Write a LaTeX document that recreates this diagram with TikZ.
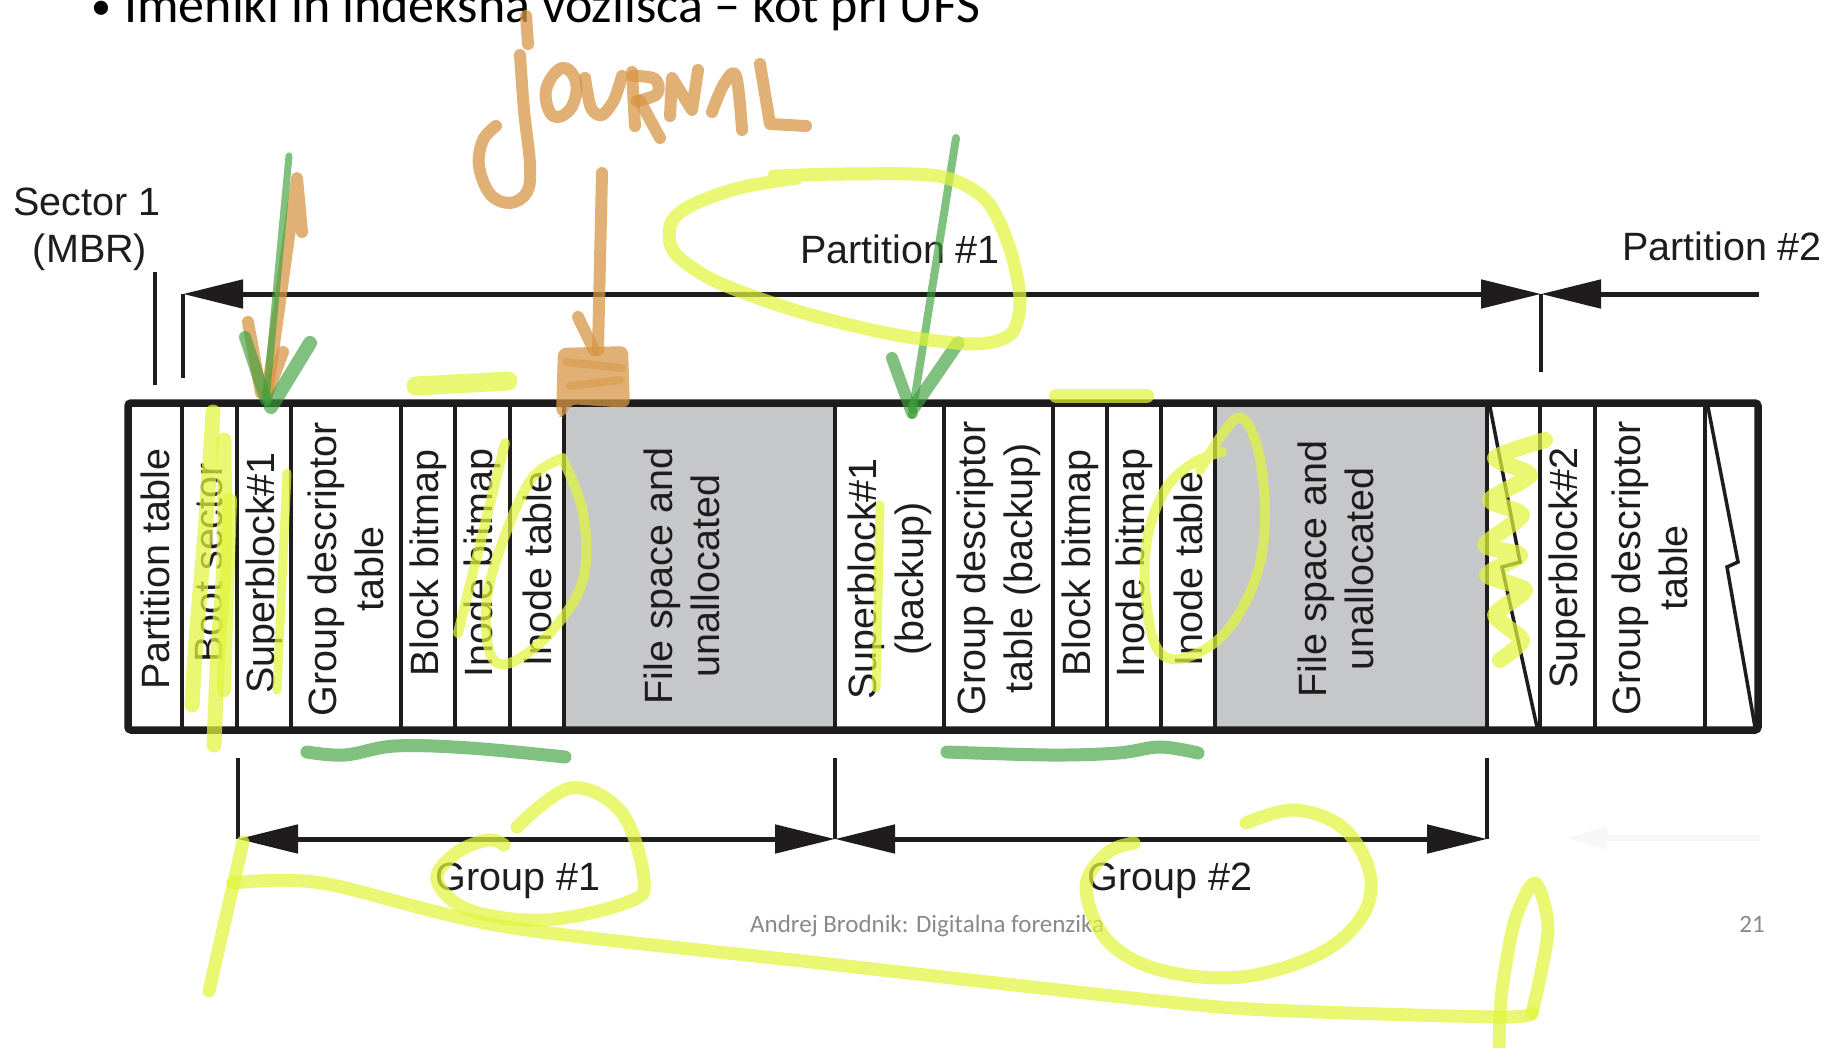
\documentclass[tikz,border=0pt]{standalone}
\usepackage{fontspec}
\setmainfont{Liberation Sans}
\newfontfamily\slidefont{Carlito}
\usetikzlibrary{arrows.meta}

\definecolor{ink}{RGB}{30,28,29}
\definecolor{cellgray}{RGB}{198,199,201}
\definecolor{hlyellow}{RGB}{225,245,60}
\definecolor{hlgreen}{RGB}{60,160,60}
\definecolor{hlorange}{RGB}{215,150,70}
\definecolor{footgray}{RGB}{137,137,137}

\begin{document}
\begin{tikzpicture}[x=1pt,y=-1pt,
  lbl/.style={font=\fontsize{39.5}{47}\selectfont, text=ink, inner sep=0pt},
  cell/.style={lbl, rotate=90, align=center, anchor=center},
  divider/.style={draw=ink, line width=4.5pt},
  zig/.style={draw=ink, line width=3.5pt, line join=miter},
  tick/.style={draw=ink, line width=4.5pt},
  dimline/.style={draw=ink, line width=5pt},
  bigtip/.tip={Triangle[length=60pt,width=28pt]},
  hy/.style={draw=hlyellow, draw opacity=0.72, line width=13pt, line cap=round, line join=round},
  hg/.style={draw=hlgreen, draw opacity=0.65, line width=12pt, line cap=round, line join=round},
  ho/.style={draw=hlorange, draw opacity=0.75, line width=12pt, line cap=round, line join=round}
]
% page
\fill[white] (0,0) rectangle (1839,1047);
\useasboundingbox (0,0) rectangle (1839,1047);

% slide heading and footer
\node[font=\slidefont\fontsize{40}{48}\selectfont, anchor=base west, inner sep=0pt] (bullet) at (91,19) {•};
\node[font=\slidefont\fontsize{52}{60}\selectfont, anchor=base west, inner sep=0pt] (heading) at (124,22) {Imeniki in indeksna vozlišča – kot pri UFS};
\node[font=\slidefont\fontsize{25}{30}\selectfont, text=footgray, anchor=base west, inner sep=0pt] (footer) at (750,932) {Andrej Brodnik: Digitalna forenzika};
\node[font=\slidefont\fontsize{25}{30}\selectfont, text=footgray, anchor=base east, inner sep=0pt] (pagenum) at (1765,932) {21};

% shaded data areas
\fill[cellgray] (564,403) rectangle (835,730);
\fill[cellgray] (1215,403) rectangle (1487,730);

% cell separators
\foreach \x in {182,237,291,401,455,510,564,835,944,1053,1107,1161,1215,1487,1540,1595,1705}
  \draw[divider] (\x,403) -- (\x,730);

% torn edges
\draw[zig] (1490,407) -- (1520,562) -- (1502,567) -- (1537,727);
\draw[zig] (1708,407) -- (1738,562) -- (1727,567) -- (1755,727);

% outer frame
\draw[ink, line width=7.5pt, rounded corners=3pt] (128,403) rectangle (1758,730);

% cell labels
\node[cell] (ptab)  at (155,569)   {Partition table};
\node[cell] (boot)  at (209.5,563) {Boot sector};
\node[cell] (sb1)   at (264,573)   {Superblock\#1};
\node[cell] (gdt1)  at (346,569)   {Group descriptor\\table};
\node[cell] (bb1)   at (428,563)   {Block bitmap};
\node[cell] (ib1)   at (482.5,563) {Inode bitmap};
\node[cell] (it1)   at (537,569)   {Inode table};
\node[cell] (fs1)   at (682,576)   {File space and\\unallocated};
\node[cell] (sb1b)  at (889.5,579) {Superblock\#1\\(backup)};
\node[cell] (gdt1b) at (998.5,568) {Group descriptor\\table (backup)};
\node[cell] (bb2)   at (1080,563)  {Block bitmap};
\node[cell] (ib2)   at (1134,563)  {Inode bitmap};
\node[cell] (it2)   at (1188,569)  {Inode table};
\node[cell] (fs2)   at (1336,569)  {File space and\\unallocated};
\node[cell] (sb2)   at (1567.5,568) {Superblock\#2};
\node[cell] (gdt2)  at (1650,568)  {Group descriptor\\table};

% upper labels
\node[lbl, anchor=base] (sec1) at (87,215) {Sector 1};
\node[lbl, anchor=base] (mbr)  at (90,262) {(MBR)};
\node[lbl, anchor=base] (part1) at (900,263) {Partition \#1};
\node[lbl, anchor=base] (part2) at (1722,260) {Partition \#2};
\node[lbl, anchor=base] (grp1) at (518,890) {Group \#1};
\node[lbl, anchor=base] (grp2) at (1170,890) {Group \#2};

% partition extents
\coordinate (mbrTop) at (155,272);
\coordinate (mbrBot) at (155,385);
\coordinate (pL) at (183,294);
\coordinate (pLbot) at (183,378);
\coordinate (pM) at (1541,294);
\coordinate (pMbot) at (1541,372);
\coordinate (pR) at (1759,294);
\draw[tick] (mbrTop) -- (mbrBot);
\draw[tick] (pL) -- (pLbot);
\draw[tick] (pM) -- (pMbot);
\draw[dimline, {bigtip}-{bigtip}] (pL) -- (pM);
\draw[dimline, {bigtip}-] (pM) -- (pR);

% group extents
\coordinate (gA) at (238,839);
\coordinate (gB) at (835,839);
\coordinate (gC) at (1487,839);
\coordinate (gAtop) at (238,758);
\coordinate (gBtop) at (835,758);
\coordinate (gCtop) at (1487,758);
\draw[tick] (gAtop) -- (gA);
\draw[tick] (gBtop) -- (gB);
\draw[tick] (gCtop) -- (gC);
\draw[dimline, {bigtip}-{bigtip}] (gA) -- (gB);
\draw[dimline, {bigtip}-{bigtip}] (gB) -- (gC);
% faint leftover extent at the right
\coordinate (gD) at (1567,838);
\coordinate (gE) at (1760,838);
\draw[draw=black!3, line width=6pt, {Triangle[length=40pt,width=22pt]}-] (gD) -- (gE);

% ---- handwritten notes ----
% "Journal"
\draw[ho] (526,16) -- (528,44);
\draw[ho] plot[smooth, tension=0.6] coordinates {(520,55) (524,110) (530,165) (527,192) (510,203) (490,194) (479,166) (483,140) (496,126)};
\draw[ho] plot[smooth cycle, tension=0.7] coordinates {(562,68) (546,90) (553,116) (571,108) (576,82)};
\draw[ho] plot[smooth, tension=0.5] coordinates {(585,78) (591,108) (602,115) (614,100) (622,76)};
\draw[ho] (632,72) -- (635,126);
\draw[ho] plot[smooth, tension=0.6] coordinates {(633,76) (655,79) (657,94) (637,101)};
\draw[ho] (640,101) -- (660,138);
\draw[ho] (670,116) -- (672,78) -- (692,110) -- (698,70);
\draw[ho] plot[smooth, tension=0.6] coordinates {(712,112) (724,84) (736,76) (742,130)};
\draw[ho] (760,64) -- (770,124) -- (806,126);

% arrow to superblock
\draw[ho] (302,232) -- (297,178) -- (267,395);
\draw[ho] (248,322) -- (261,393);
\draw[ho] (283,352) -- (268,392);
\draw[hg, line width=7pt] (289,156) -- (266,400);
\draw[hg] (245,337) -- (266,400);
\draw[hg, line width=14pt] (310,343) -- (271,407);

% arrow to start of data area
\draw[ho] (602,173) -- (598,350);
\draw[ho] (578,317) -- (594,350);
\fill[hlorange, fill opacity=0.75, rounded corners=8pt] (558,348) -- (628,346) -- (630,408) -- (569,404) -- (566,418) -- (556,416) -- cycle;
\draw[ho, line width=8pt, draw opacity=0.5] (566,362) -- (622,368) (570,386) -- (620,380);

% arrow to backup superblock
\draw[hg, line width=8pt] (956,138) -- (912,415);
\draw[hg] (892,358) -- (912,413);
\draw[hg, line width=13pt] (958,343) -- (914,407);

% underlines
\draw[hg, line width=13pt] plot[smooth, tension=0.6] coordinates {(307,752) (345,755) (395,746) (470,748) (565,757)};
\draw[hg, line width=13pt] plot[smooth, tension=0.6] coordinates {(947,752) (1050,755) (1118,753) (1160,747) (1198,753)};

% highlighter marks
\draw[hy] plot[smooth, tension=0.5] coordinates {(774,176) (844,174) (938,176) (985,199) (1009,246) (1020,299) (1011,334) (973,344) (891,334) (797,311) (715,281) (674,252) (671,223) (692,205) (739,188) (797,178)};
\draw[hy, line width=19pt] (416,386) -- (508,381);
\draw[hy, line width=14pt] (1056,396) -- (1147,396);
\draw[hy, line width=15pt] plot[smooth] coordinates {(213,412) (206,520) (196,640) (192,705)};
\draw[hy, line width=15pt] plot[smooth] coordinates {(224,440) (224,560) (218,650) (214,745)};
\draw[hy, line width=14pt] plot[smooth] coordinates {(230,500) (226,620) (224,690)};
\draw[hy, line width=9pt] (287,473) -- (277,690);
\draw[hy, line width=10pt] (505,443) -- (458,633);
\draw[hy, line width=10pt] plot[smooth, tension=0.6] coordinates {(563,460) (583,513) (583,580) (550,633) (510,663) (490,653) (487,597) (507,530) (533,477) (563,458)};
\draw[hy, line width=9pt] (880,505) -- (876,688);
\draw[hy, line width=10pt] plot[smooth, tension=0.6] coordinates {(1200,470) (1237,418) (1258,450) (1265,520) (1255,580) (1225,633) (1185,658) (1158,650) (1146,600) (1147,540) (1165,490) (1193,463) (1222,452)};
\draw[hy, line width=16pt] plot[smooth, tension=0.4] coordinates {(1545,440) (1495,458) (1530,475) (1490,500) (1522,515) (1485,545) (1520,555) (1487,575) (1525,590) (1495,615) (1522,640) (1500,660)};
\draw[hy] plot[smooth, tension=0.6] coordinates {(517,827) (571,788) (622,813) (644,880) (628,902) (545,920) (469,910) (437,880) (456,853) (488,840) (504,845)};
\draw[hy] plot[smooth, tension=0.6] coordinates {(1246,823) (1294,810) (1342,827) (1369,870) (1364,913) (1321,953) (1241,977) (1160,970) (1107,940) (1086,887) (1107,853) (1134,843)};
\draw[hy] (209,991) -- (243,842);
\draw[hy] plot[smooth, tension=0.5] coordinates {(233,883) (322,883) (507,927) (820,963) (1150,1000) (1268,1010) (1498,1017) (1532,1013)};
\draw[hy] plot[smooth, tension=0.5] coordinates {(1532,1013) (1548,930) (1535,883) (1515,920) (1502,990) (1499,1047)};
\end{tikzpicture}
\end{document}
